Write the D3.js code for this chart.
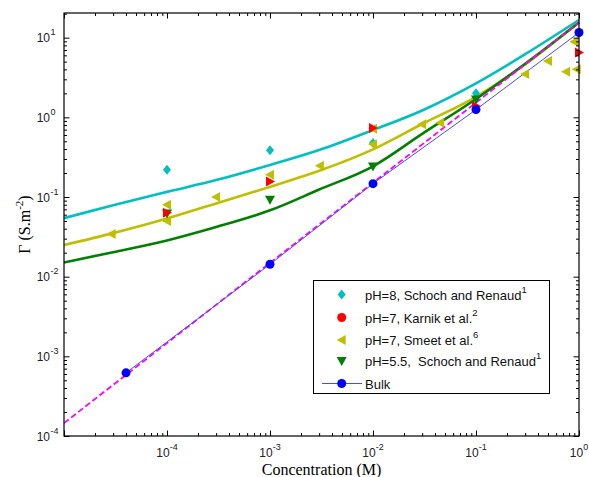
<!DOCTYPE html>
<html>
<head>
<meta charset="utf-8">
<script src="https://cdn.jsdelivr.net/npm/d3@7"></script>
<style>
  body { margin: 0; background: #fff; }
  text { font-family: "Liberation Sans", Arial, sans-serif; white-space: pre; }
</style>
</head>
<body>
<script>
// Surface conductance vs concentration, log-log
const width = 589;
const height = 477;

// model curves (sampled at the same concentrations)
const modelConc = [1e-5, 3e-5, 1e-4, 3e-4, 1e-3, 3e-3, 1e-2, 3e-2, 0.1, 0.3, 1];
const modelPH8 = [0.0543, 0.079, 0.116, 0.163, 0.252, 0.388, 0.692, 1.22, 2.67, 6.2, 16.7];
const modelPH7 = [0.0249, 0.0352, 0.0537, 0.083, 0.134, 0.213, 0.396, 0.824, 1.81, 4.6, 15.7];
const modelPH55 = [0.0151, 0.0203, 0.0285, 0.042, 0.068, 0.124, 0.243, 0.62, 1.7, 4.7, 15.5];

// dashed reference line
const dashConc = [1e-5, 1];
const dashVal = [1.45e-4, 15.5];

// measured points
const schoch8Conc = [1e-4, 1e-3, 1e-2, 0.1];
const schoch8Val = [0.22, 0.385, 0.476, 2.0];
const karnikConc = [1e-4, 1e-3, 1e-2, 0.1, 1];
const karnikVal = [0.0636, 0.157, 0.736, 1.39, 6.5];
const smeetConc = [2.9e-5, 1e-4, 1e-4, 3e-4, 1e-3, 3.05e-3, 1e-2, 1e-2, 0.03, 0.045, 0.3, 0.5, 0.75, 0.95, 0.9];
const smeetVal = [0.0344, 0.08, 0.05, 0.1, 0.19, 0.247, 0.72, 0.46, 0.82, 0.855, 3.5, 5.1, 3.74, 4.0, 8.9];
const schoch55Conc = [1e-4, 1e-3, 1e-2, 0.1];
const schoch55Val = [0.062, 0.0925, 0.242, 1.68];
const bulkConc = [4e-5, 1e-3, 1e-2, 0.1, 1];
const bulkVal = [6.2e-4, 0.0143, 0.147, 1.25, 11.6];

const legendLabels = [
    ["pH=8, Schoch and Renaud", "1"],
    ["pH=7, Karnik et al.", "2"],
    ["pH=7, Smeet et al.", "6"],
    ["pH=5.5,  Schoch and Renaud", "1"],
    ["Bulk", ""]
];

const cCyan = "#00bfbf", cYellow = "#bfbf00", cGreen = "#007f00",
      cRed = "#ff0000", cBlue = "#0000ff", cMag = "#ff00ff";

const pLeft = 64, pRight = 579, pTop = 13, pBottom = 436;

const svg = d3.select("body").append("svg")
    .attr("width", width)
    .attr("height", height);

const x = d3.scaleLog().domain([1e-5, 1]).range([pLeft, pRight]);
const y = d3.scaleLog().domain([1e-4, 20.4]).range([pBottom, pTop]);

const zip = (a, b) => a.map((v, i) => [v, b[i]]);

// marker shapes
function marker(type, s) {
    if (type === "diamond") return `M0,${-s}L${s * 0.8},0L0,${s}L${-s * 0.8},0Z`;
    if (type === "left") return `M${-s},0L${s * 0.8},${-s}L${s * 0.8},${s}Z`;
    if (type === "right") return `M${s},0L${-s * 0.8},${-s}L${-s * 0.8},${s}Z`;
    if (type === "down") return `M0,${s}L${-s},${-s * 0.8}L${s},${-s * 0.8}Z`;
    return d3.symbol(d3.symbolCircle, Math.PI * s * s)();
}

const plot = svg.append("g");
const line = d3.line().x(d => x(d[0])).y(d => y(d[1])).curve(d3.curveMonotoneX);

// model curves
[[modelPH8, cCyan], [modelPH7, cYellow], [modelPH55, cGreen]].forEach(([vals, col]) => {
    plot.append("path")
        .datum(zip(modelConc, vals))
        .attr("d", line)
        .attr("fill", "none")
        .attr("stroke", col)
        .attr("stroke-width", 2.6);
});

// dashed line
plot.append("path")
    .datum(zip(dashConc, dashVal))
    .attr("d", d3.line().x(d => x(d[0])).y(d => y(d[1])))
    .attr("fill", "none")
    .attr("stroke", cMag)
    .attr("stroke-width", 1.8)
    .attr("stroke-dasharray", "6,3");

// bulk
plot.append("path")
    .datum(zip(bulkConc, bulkVal))
    .attr("d", d3.line().x(d => x(d[0])).y(d => y(d[1])))
    .attr("fill", "none")
    .attr("stroke", "#4a4aff")
    .attr("stroke-width", 1);

function drawPoints(cs, vs, type, col, s) {
    plot.selectAll(null)
        .data(zip(cs, vs))
        .join("path")
        .attr("transform", d => `translate(${x(d[0])},${y(d[1])})`)
        .attr("d", marker(type, s))
        .attr("fill", col);
}
drawPoints(schoch8Conc, schoch8Val, "diamond", cCyan, 5);
drawPoints(smeetConc, smeetVal, "left", cYellow, 5);
drawPoints(schoch55Conc, schoch55Val, "down", cGreen, 5);
drawPoints(karnikConc, karnikVal, "right", cRed, 5);
drawPoints(bulkConc, bulkVal, "circle", cBlue, 4.5);

// axes box and ticks
const isMajor = v => Math.abs(Math.log10(v) - Math.round(Math.log10(v))) < 1e-6;
const xTicks = x.ticks();
const yTicks = y.ticks().filter(v => v <= 20.4);
const xMajor = xTicks.filter(isMajor), xMinor = xTicks.filter(v => !isMajor(v));
const yMajor = yTicks.filter(isMajor), yMinor = yTicks.filter(v => !isMajor(v));

function axisPair(axisFn, scale, vals, size, tx, ty) {
    svg.append("g")
        .attr("transform", `translate(${tx},${ty})`)
        .call(axisFn(scale).tickValues(vals).tickSizeInner(size).tickSizeOuter(0).tickFormat(""))
        .call(g => g.select(".domain").remove())
        .selectAll("line").attr("stroke", "#000");
}
[[xMajor, -5.5], [xMinor, -3]].forEach(([v, s]) => {
    axisPair(d3.axisBottom, x, v, s, 0, pBottom);
    axisPair(d3.axisTop, x, v, s, 0, pTop);
});
[[yMajor, -5.5], [yMinor, -3]].forEach(([v, s]) => {
    axisPair(d3.axisLeft, y, v, s, pLeft, 0);
    axisPair(d3.axisRight, y, v, s, pRight, 0);
});

svg.append("rect")
    .attr("x", pLeft).attr("y", pTop)
    .attr("width", pRight - pLeft).attr("height", pBottom - pTop)
    .attr("fill", "none")
    .attr("stroke", "#000")
    .attr("stroke-width", 1.2);

// tick labels (no label at the left x limit)
xMajor.filter(v => v > 1e-5).forEach(v => {
    const t = svg.append("text")
        .attr("x", x(v)).attr("y", 457)
        .attr("text-anchor", "middle")
        .attr("font-size", 12)
        .attr("fill", "#222")
        .text("10");
    t.append("tspan").attr("dy", -7).attr("font-size", 9).text(Math.round(Math.log10(v)));
});
yMajor.forEach(v => {
    const ty = y(v) + 4.5;
    svg.append("text")
        .attr("x", 50).attr("y", ty)
        .attr("text-anchor", "end")
        .attr("font-size", 12)
        .attr("fill", "#222")
        .text("10");
    svg.append("text")
        .attr("x", 50.5).attr("y", ty - 7)
        .attr("font-size", 9)
        .attr("fill", "#222")
        .text(Math.round(Math.log10(v)));
});

// axis titles
svg.append("text")
    .attr("x", (pLeft + pRight) / 2).attr("y", 475)
    .attr("text-anchor", "middle")
    .style("font-family", "'Liberation Serif', 'Times New Roman', serif")
    .attr("font-size", 16)
    .text("Concentration (M)");

const yt = svg.append("text")
    .attr("transform", `translate(30,${(pTop + pBottom) / 2}) rotate(-90)`)
    .attr("text-anchor", "middle")
    .style("font-family", "'Liberation Serif', 'Times New Roman', serif")
    .attr("font-size", 16);
yt.append("tspan").text("\u0393 (S.m");
yt.append("tspan").attr("dy", -7).attr("font-size", 11).text("-2");
yt.append("tspan").attr("dy", 7).text(")");

// legend
const lg = svg.append("g");
lg.append("rect")
    .attr("x", 313.5).attr("y", 280.5)
    .attr("width", 236).attr("height", 113)
    .attr("fill", "#fff")
    .attr("stroke", "#000")
    .attr("stroke-width", 1);

const rowY = [294.5, 317.5, 340, 361, 383.5];
const legendMarks = [["diamond", cCyan], ["circle", cRed], ["left", cYellow], ["down", cGreen], ["circle", cBlue]];
lg.append("line")
    .attr("x1", 322).attr("x2", 362)
    .attr("y1", rowY[4]).attr("y2", rowY[4])
    .attr("stroke", "#4a4aff");
legendLabels.forEach((lab, i) => {
    lg.append("path")
        .attr("transform", `translate(341.7,${rowY[i]})`)
        .attr("d", marker(legendMarks[i][0], legendMarks[i][0] === "circle" ? 4.5 : 5))
        .attr("fill", legendMarks[i][1]);
    const t = lg.append("text")
        .attr("x", 365).attr("y", rowY[i] + 5)
        .attr("font-size", 13)
        .attr("fill", "#111")
        .text(lab[0]);
    if (lab[1]) t.append("tspan").attr("dy", -7).attr("font-size", 9.5).text(lab[1]);
});
</script>
</body>
</html>
